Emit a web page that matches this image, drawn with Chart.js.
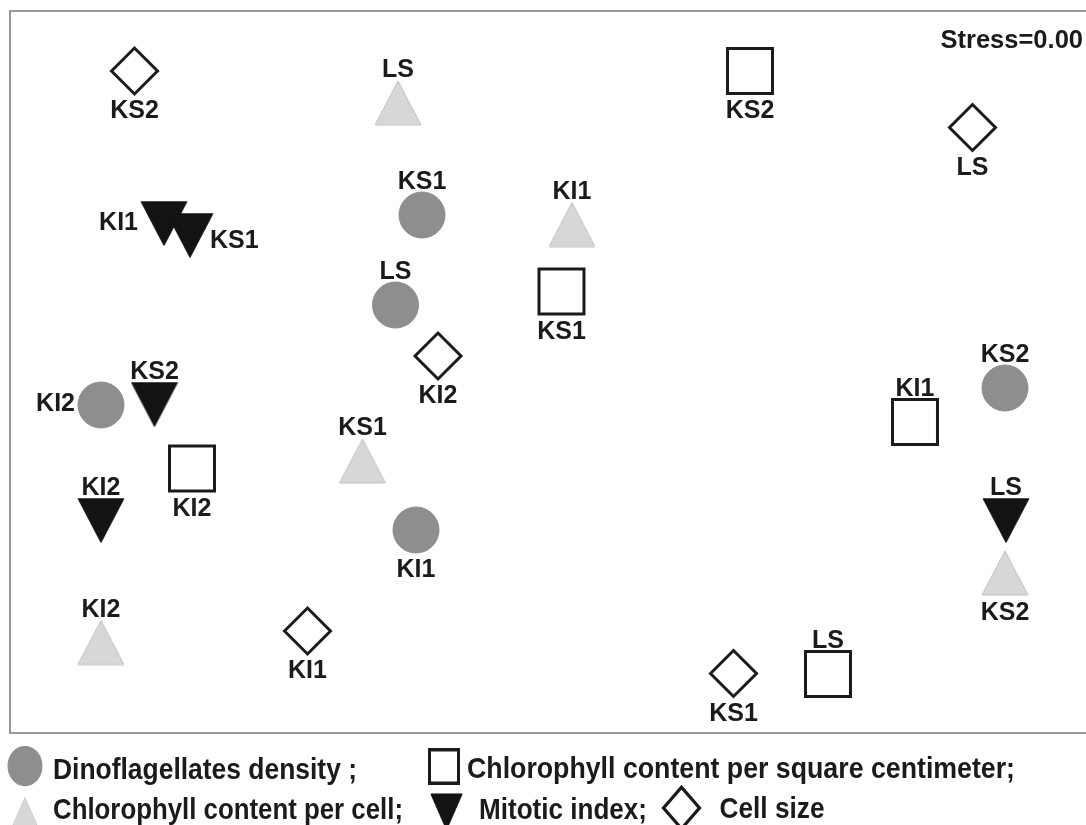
<!DOCTYPE html>
<html>
<head>
<meta charset="utf-8">
<script src="https://cdn.jsdelivr.net/npm/chart.js@4"></script>
<style>
  html, body { margin: 0; padding: 0; background: #fff; }
  canvas { display: block; }
</style>
</head>
<body>
<canvas id="nmds" width="1086" height="825"></canvas>
<script>
// NMDS ordination, coordinates (arbitrary units)
const densityNames = ['KS1', 'LS', 'KI2', 'KS2', 'KI1'];
const densityX = [412, 385.5, 91, 995, 406];
const densityY = [518, 428, 328, 345, 203];

const chlAreaNames = ['KS2', 'KS1', 'KI2', 'KI1', 'LS'];
const chlAreaX = [740, 551.5, 182, 905, 818];
const chlAreaY = [662, 441.5, 264.5, 311, 59];

const chlCellNames = ['LS', 'KI1', 'KS1', 'KI2', 'KS2'];
const chlCellX = [388, 562, 352.5, 91, 995];
const chlCellY = [630, 508.5, 272, 90.5, 160];

const mitoticNames = ['KI1', 'KS1', 'KS2', 'KI2', 'LS'];
const mitoticX = [154, 180, 144.5, 91, 996];
const mitoticY = [509.5, 497.5, 328.5, 212.5, 212.5];

const cellSizeNames = ['KS2', 'LS', 'KI2', 'KI1', 'KS1'];
const cellSizeX = [124.5, 962.5, 428, 297.5, 723.5];
const cellSizeY = [662, 605.5, 377, 102, 59.5];

const stressText = 'Stress=0.00';

// where each label sits relative to its marker
const densityPos = ['top', 'top', 'left', 'top', 'bottom'];
const chlAreaPos = ['bottom', 'bottom', 'bottom', 'top', 'top'];
const chlCellPos = ['top', 'top', 'top', 'top', 'bottom'];
const mitoticPos = ['left', 'right', 'top', 'top', 'top'];
const cellSizePos = ['bottom', 'bottom', 'bottom', 'bottom', 'bottom'];

const INK = '#1b1b1b';
const FONT = '"Liberation Sans", Arial, Helvetica, sans-serif';

function triangleImage(fill, stroke, down) {
  const c = document.createElement('canvas');
  c.width = 48; c.height = 46;
  const g = c.getContext('2d');
  g.beginPath();
  if (down) { g.moveTo(1, 1); g.lineTo(47, 1); g.lineTo(24, 45); }
  else { g.moveTo(24, 1); g.lineTo(47, 45); g.lineTo(1, 45); }
  g.closePath();
  g.fillStyle = fill; g.fill();
  g.strokeStyle = stroke; g.lineWidth = 1; g.stroke();
  return c;
}
const upTri = triangleImage('#d7d7d7', '#c2c2c2', false);
const downTri = triangleImage('#131313', '#131313', true);

const toPoints = (xs, ys) => xs.map((x, i) => ({ x: x, y: ys[i] }));

const series = [
  { label: 'Dinoflagellates density ;', names: densityNames, pos: densityPos,
    data: toPoints(densityX, densityY), pointStyle: 'circle', pointRadius: 23,
    backgroundColor: '#8e8e8e', borderColor: '#8e8e8e', borderWidth: 1 },
  { label: 'Chlorophyll content per square centimeter;', names: chlAreaNames, pos: chlAreaPos,
    data: toPoints(chlAreaX, chlAreaY), pointStyle: 'rect', pointRadius: 31.8,
    backgroundColor: '#ffffff', borderColor: INK, borderWidth: 3 },
  { label: 'Chlorophyll content per cell;', names: chlCellNames, pos: chlCellPos,
    data: toPoints(chlCellX, chlCellY), pointStyle: upTri, pointRadius: 23,
    backgroundColor: '#d7d7d7', borderColor: '#c2c2c2', borderWidth: 1 },
  { label: 'Mitotic index;', names: mitoticNames, pos: mitoticPos,
    data: toPoints(mitoticX, mitoticY), pointStyle: downTri, pointRadius: 23,
    backgroundColor: '#131313', borderColor: '#131313', borderWidth: 1 },
  { label: 'Cell size', names: cellSizeNames, pos: cellSizePos,
    data: toPoints(cellSizeX, cellSizeY), pointStyle: 'rectRot', pointRadius: 23,
    backgroundColor: '#ffffff', borderColor: INK, borderWidth: 3 }
];

const frame = {
  id: 'frame',
  beforeDraw(chart) {
    const { ctx, chartArea: a } = chart;
    ctx.save();
    ctx.fillStyle = '#fff';
    ctx.fillRect(0, 0, chart.width, chart.height);
    ctx.strokeStyle = '#9a9a9a';
    ctx.lineWidth = 2;
    ctx.beginPath();
    ctx.moveTo(chart.width + 2, a.top);
    ctx.lineTo(a.left, a.top);
    ctx.lineTo(a.left, a.bottom);
    ctx.lineTo(chart.width + 2, a.bottom);
    ctx.stroke();
    ctx.restore();
  }
};

const pointLabels = {
  id: 'pointLabels',
  afterDatasetsDraw(chart) {
    const ctx = chart.ctx;
    ctx.save();
    ctx.font = 'bold 25px ' + FONT;
    ctx.fillStyle = INK;
    chart.data.datasets.forEach((ds, i) => {
      chart.getDatasetMeta(i).data.forEach((pt, j) => {
        const name = ds.names[j];
        switch (ds.pos[j]) {
          case 'top':
            ctx.textAlign = 'center'; ctx.fillText(name, pt.x, pt.y - 26); break;
          case 'bottom':
            ctx.textAlign = 'center'; ctx.fillText(name, pt.x, pt.y + 47); break;
          case 'left':
            ctx.textAlign = 'right'; ctx.fillText(name, pt.x - 26, pt.y + 6); break;
          case 'right':
            ctx.textAlign = 'left'; ctx.fillText(name, pt.x + 20, pt.y + 12); break;
        }
      });
    });
    ctx.font = 'bold 25.5px ' + FONT;
    ctx.textAlign = 'right';
    ctx.fillText(stressText, 1083, 48);
    ctx.restore();
  }
};

// two-row legend under the plot; the figure's legend is a little taller than wide
const legendRows = {
  id: 'legendRows',
  afterDraw(chart) {
    const ctx = chart.ctx;
    const items = [
      { ds: 0, sx: 25, sy: 766, r: 17, tx: 53, ty: 779, tw: 304 },
      { ds: 1, sx: 444, sy: 766.5, r: 20.5, tx: 467, ty: 778, tw: 548 },
      { ds: 2, sx: 25, sy: 815, r: 16, tx: 53, ty: 819, tw: 350 },
      { ds: 3, sx: 446.5, sy: 812, r: 16.5, tx: 479, ty: 819, tw: 168 },
      { ds: 4, sx: 681.5, sy: 808, r: 18, tx: 719.5, ty: 818, tw: 105 }
    ];
    ctx.save();
    items.forEach(it => {
      const ds = chart.data.datasets[it.ds];
      ctx.save();
      ctx.translate(it.sx, it.sy);
      ctx.scale(1, 1.15);
      if (ds.pointStyle instanceof HTMLCanvasElement) {
        const w = it.r * 2;
        ctx.drawImage(ds.pointStyle, -w / 2, -w / 2, w, w);
      } else {
        ctx.fillStyle = ds.backgroundColor;
        ctx.strokeStyle = ds.borderColor;
        ctx.lineWidth = ds.borderWidth;
        Chart.helpers.drawPoint(ctx, { pointStyle: ds.pointStyle, radius: it.r, borderWidth: ds.borderWidth }, 0, 0);
      }
      ctx.restore();

      ctx.save();
      ctx.font = 'bold 26px ' + FONT;
      ctx.fillStyle = INK;
      ctx.textAlign = 'left';
      const natural = ctx.measureText(ds.label).width;
      ctx.translate(it.tx, it.ty);
      ctx.scale(it.tw / natural, 1.1);
      ctx.fillText(ds.label, 0, 0);
      ctx.restore();
    });
    ctx.restore();
  }
};

new Chart(document.getElementById('nmds').getContext('2d'), {
  type: 'scatter',
  data: { datasets: series },
  options: {
    responsive: false,
    animation: false,
    events: [],
    layout: { autoPadding: false, padding: { left: 10, top: 11, right: 0, bottom: 92 } },
    scales: {
      x: { type: 'linear', min: 0, max: 1076, display: false },
      y: { type: 'linear', min: 0, max: 722, display: false }
    },
    plugins: { legend: { display: false }, tooltip: { enabled: false } }
  },
  plugins: [frame, pointLabels, legendRows]
});
</script>
</body>
</html>
